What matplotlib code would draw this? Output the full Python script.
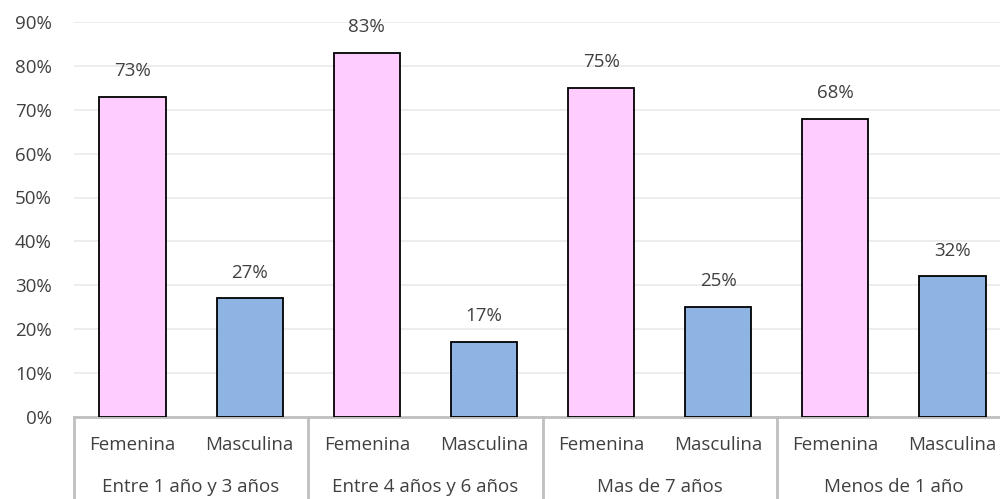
import matplotlib
matplotlib.use("Agg")
import matplotlib.pyplot as plt
import matplotlib.transforms as mtransforms
import numpy as np

plt.rcParams['font.family'] = ['Open Sans', 'DejaVu Sans']

# Data
groups = ["Entre 1 año y 3 años", "Entre 4 años y 6 años", "Mas de 7 años", "Menos de 1 año"]
genders = ["Femenina", "Masculina"]
femenina = [73, 83, 75, 68]
masculina = [27, 17, 25, 32]
y_ticks = [0, 10, 20, 30, 40, 50, 60, 70, 80, 90]

pink = "#FFCCFF"
blue = "#8DB4E2"
text_col = "#404040"
line_gray = "#BFBFBF"
fs = 13.5

W, H = 1000, 499
fig = plt.figure(figsize=(W / 100, H / 100), dpi=100)
left_px, right_px, top_px, bottom_px = 74, 1011, 22.3, 416.5
ax = fig.add_axes([left_px / W, 1 - bottom_px / H,
                   (right_px - left_px) / W, (bottom_px - top_px) / H])

n = len(groups)
values = []
colors = []
for f, m in zip(femenina, masculina):
    values += [f, m]
    colors += [pink, blue]
x = np.arange(2 * n)

ax.bar(x, values, width=0.565, color=colors, edgecolor="black",
       linewidth=1.3, zorder=3)

for xi, v in zip(x, values):
    ax.annotate(f"{v}%", (xi, v), xytext=(0, 12), textcoords="offset points",
                ha="center", va="bottom", fontsize=fs, color=text_col)

ax.set_xlim(-0.5, 2 * n - 0.5)
ax.set_ylim(0, 90)
ax.set_yticks(y_ticks)
ax.set_yticklabels([f"{t}%" for t in y_ticks], fontsize=fs, color=text_col)
ax.tick_params(axis="y", length=0, pad=16)
ax.set_xticks([])
for t in y_ticks[1:]:
    ax.axhline(t, color="#EDEDED", linewidth=1.4, zorder=0)

for s in ["top", "right", "left"]:
    ax.spines[s].set_visible(False)
ax.spines["bottom"].set_color(line_gray)
ax.spines["bottom"].set_linewidth(2)

# Two-level category axis
trans = mtransforms.blended_transform_factory(ax.transData, ax.transAxes)
for k in range(n):
    xs = -0.5 + 2 * k
    ax.plot([xs, xs], [0, -0.3], color=line_gray, linewidth=2,
            transform=trans, clip_on=False, zorder=1)

sub_y = -(445 - bottom_px) / (bottom_px - top_px)
grp_y = -(487 - bottom_px) / (bottom_px - top_px)
for i in range(n):
    for j, g in enumerate(genders):
        ax.text(2 * i + j, sub_y, g, transform=trans, ha="center", va="center",
                fontsize=fs, color=text_col)
    ax.text(2 * i + 0.5, grp_y, groups[i], transform=trans, ha="center",
            va="center", fontsize=fs, color=text_col)

fig.savefig("out.png", dpi=100)
